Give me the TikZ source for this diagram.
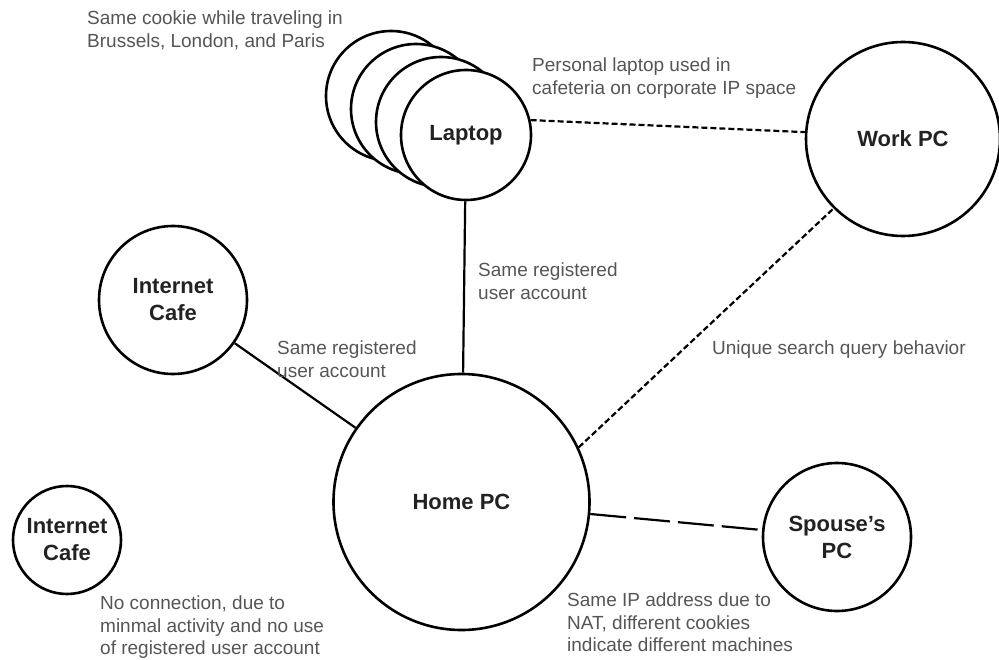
\documentclass[tikz,border=0pt]{standalone}
\usepackage{fontspec}
\setmainfont{Liberation Sans}
\definecolor{notegray}{HTML}{555555}
\definecolor{labelink}{HTML}{222222}
\tikzset{
  pc/.style={circle, draw, line width=2.6pt, fill=white, inner sep=0pt,
    align=center, text=labelink, font=\fontsize{22}{27}\selectfont\bfseries},
  note/.style={anchor=north west, inner sep=0pt, align=left, text=notegray,
    font=\fontsize{19}{22.5}\selectfont},
  link/.style={line width=2.2pt},
}
\begin{document}
\begin{tikzpicture}[x=1pt, y=-1pt] % pixel-like units, y downwards
  \useasboundingbox (0,0) rectangle (999,660);

  % Laptop stack (back to front)
  \foreach \k [count=\i from 0] in {A,B,C} {
    \node[pc, minimum size=130pt] (lap\k) at (391+25*\i, 96+13*\i) {};
  }
  \node[pc, minimum size=130pt] (lapD) at (466,135) {Laptop};

  % Machines
  \node[pc, minimum size=194pt] (work) at (903,139) {Work PC};
  \node[pc, minimum size=256pt] (home) at (461.5,502) {Home PC};
  \node[pc, minimum size=148pt] (cafe) at (173,300) {Internet\\Cafe};
  \node[pc, minimum size=108pt] (cafeB) at (67,540) {Internet\\Cafe};
  \node[pc, minimum size=148pt] (spouse) at (837,537) {Spouse’s\\PC};

  % Connections
  \draw[link] (lapD) -- (home);
  \draw[link] (cafe) -- (home);
  \draw[link, dash pattern=on 6pt off 3pt] (lapD.13) -- (work.176); % short dashes
  \draw[link, dash pattern=on 6pt off 3pt] (home.25) -- (work.225);
  \draw[link, dash pattern=on 36pt off 8pt] (home) -- (spouse); % long dashes

  % Notes
  \node[note] (cookieNote) at (87,11) {Same cookie while traveling in\\Brussels, London, and Paris};
  \node[note] (cafeteriaNote) at (532,58) {Personal laptop used in\\cafeteria on corporate IP space};
  \node[note] (laptopNote) at (478,263) {Same registered\\user account};
  \node[note] (cafeNote) at (277,341) {Same registered\\user account};
  \node[note] (queryNote) at (712,341) {Unique search query behavior};
  \node[note] (noneNote) at (100,596) {No connection, due to\\minmal activity and no use\\of registered user account};
  \node[note] (natNote) at (567,593) {Same IP address due to\\NAT, different cookies\\indicate different machines};
\end{tikzpicture}
\end{document}
